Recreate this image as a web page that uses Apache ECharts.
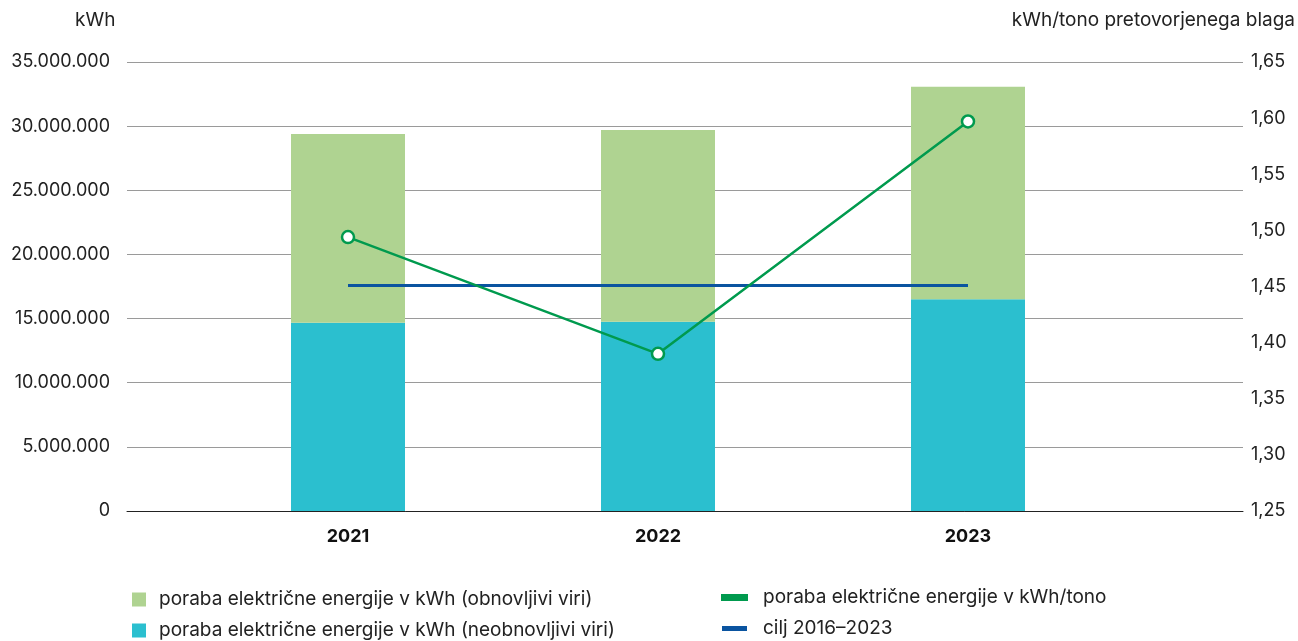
<!DOCTYPE html>
<html>
<head>
<meta charset="utf-8">
<script src="https://cdn.jsdelivr.net/npm/echarts@6/dist/echarts.min.js"></script>
<style>
  html, body { margin: 0; padding: 0; background: #fff; }
  #chart { width: 1298px; height: 641px; }
</style>
</head>
<body>
<div id="chart"></div>
<script>
// podatki
const years = ['2021', '2022', '2023'];
const neobnovljivi = [14680000, 14750000, 16500000];
const obnovljivi = [14710000, 14950000, 16570000];
const porabaNaTono = [1.494, 1.390, 1.597];
const cilj = [1.451, 1.451, 1.451];

const FONT = 'Inter, Roboto, sans-serif';
const TXT = '#222';

const fmtKwh = v => String(v).replace(/\B(?=(\d{3})+(?!\d))/g, '.');
const fmtTono = v => v.toFixed(2).replace('.', ',');

// grid 0: osi in mreža, grid 1: stolpci in črte (ožji, da so stolpci na pravem mestu)
const option = {
    animation: false,
    textStyle: { fontFamily: FONT },
    title: [
        { text: 'kWh', left: 75, top: 11, padding: 0, textStyle: { fontSize: 19, fontWeight: 'normal', color: TXT, fontFamily: FONT } },
        { text: 'kWh/tono pretovorjenega blaga', right: 3, top: 11, padding: 0, textStyle: { fontSize: 19, fontWeight: 'normal', color: TXT, fontFamily: FONT } }
    ],
    grid: [
        { left: 127, right: 55, top: 62, bottom: 130 },
        { left: 193, right: 175, top: 62, bottom: 130 }
    ],
    xAxis: [
        {
            type: 'category', gridIndex: 0, data: years,
            axisLine: { show: true, lineStyle: { color: '#222', width: 1 } },
            axisTick: { show: false }, axisLabel: { show: false }
        },
        {
            type: 'category', gridIndex: 1, data: years,
            axisLine: { show: false }, axisTick: { show: false },
            axisLabel: { fontWeight: 'bold', fontSize: 18, color: '#111', margin: 17, fontFamily: FONT }
        }
    ],
    yAxis: [
        {
            type: 'value', gridIndex: 0, min: 0, max: 35000000, interval: 5000000,
            axisLine: { show: false }, axisTick: { show: false },
            splitLine: { lineStyle: { color: '#9a9a9a', width: 1 } },
            axisLabel: { fontSize: 18, color: TXT, margin: 17, fontFamily: FONT, formatter: fmtKwh }
        },
        {
            type: 'value', gridIndex: 0, min: 1.25, max: 1.65, interval: 0.05,
            axisLine: { show: false }, axisTick: { show: false }, splitLine: { show: false },
            axisLabel: { fontSize: 18, color: TXT, margin: 8, fontFamily: FONT, formatter: fmtTono }
        },
        {
            type: 'value', gridIndex: 1, min: 0, max: 35000000, interval: 5000000, show: false
        },
        {
            type: 'value', gridIndex: 1, min: 1.25, max: 1.65, interval: 0.05, show: false, position: 'right'
        }
    ],
    legend: [
        {
            orient: 'vertical', left: 132, top: 590, padding: 0,
            itemWidth: 14, itemHeight: 14, itemGap: 12,
            textStyle: { fontSize: 19, color: TXT, padding: [0, 0, 0, 8], fontFamily: FONT },
            data: [
                { name: 'poraba električne energije v kWh (obnovljivi viri)', icon: 'rect' },
                { name: 'poraba električne energije v kWh (neobnovljivi viri)', icon: 'rect' }
            ]
        },
        {
            orient: 'vertical', left: 721, top: 588, padding: 0,
            itemWidth: 25, itemHeight: 5, itemGap: 12,
            textStyle: { fontSize: 19, color: TXT, padding: [0, 0, 0, 11], fontFamily: FONT },
            data: [
                { name: 'poraba električne energije v kWh/tono', icon: 'rect', itemStyle: { color: '#009a4e' } },
                { name: 'cilj 2016–2023', icon: 'rect', itemStyle: { color: '#0a54a0' } }
            ]
        }
    ],
    series: [
        {
            name: 'poraba električne energije v kWh (neobnovljivi viri)',
            type: 'bar', xAxisIndex: 1, yAxisIndex: 2, stack: 'kwh', barWidth: 114,
            itemStyle: { color: '#2bbfcf' },
            data: neobnovljivi
        },
        {
            name: 'poraba električne energije v kWh (obnovljivi viri)',
            type: 'bar', xAxisIndex: 1, yAxisIndex: 2, stack: 'kwh', barWidth: 114,
            itemStyle: { color: '#afd391' },
            data: obnovljivi
        },
        {
            name: 'cilj 2016–2023',
            type: 'line', xAxisIndex: 1, yAxisIndex: 3,
            symbol: 'none',
            lineStyle: { color: '#0a54a0', width: 3 },
            itemStyle: { color: '#0a54a0' },
            data: cilj
        },
        {
            name: 'poraba električne energije v kWh/tono',
            type: 'line', xAxisIndex: 1, yAxisIndex: 3,
            symbol: 'circle', symbolSize: 12, showAllSymbol: true,
            lineStyle: { color: '#009a4e', width: 2.5 },
            itemStyle: { color: '#fff', borderColor: '#009a4e', borderWidth: 2.5 },
            data: porabaNaTono
        }
    ]
};

const chart = echarts.init(document.getElementById('chart'));
chart.setOption(option);
</script>
</body>
</html>
